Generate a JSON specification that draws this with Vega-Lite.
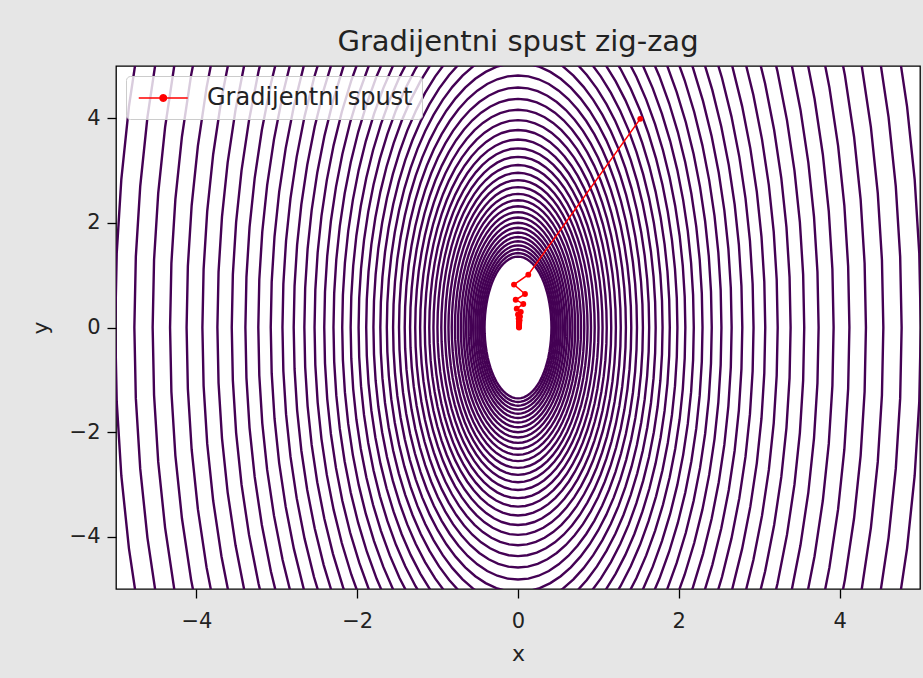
{
  "$schema": "https://vega.github.io/schema/vega-lite/v6.json",
  "width": 804,
  "height": 523,
  "autosize": {"type": "none"},
  "padding": {"left": 116, "top": 66, "right": 3, "bottom": 89},
  "background": "#e6e6e6",
  "title": {
    "text": "Gradijentni spust zig-zag",
    "font": "DejaVu Sans",
    "fontSize": 29,
    "fontWeight": "normal",
    "color": "#222222",
    "anchor": "middle",
    "baseline": "alphabetic",
    "offset": -14
  },
  "datasets": {
    "contours": [
      {"a": 0.417}, {"a": 0.438}, {"a": 0.46}, {"a": 0.483}, {"a": 0.507}, {"a": 0.532}, {"a": 0.559}, {"a": 0.587},
      {"a": 0.616}, {"a": 0.647}, {"a": 0.679}, {"a": 0.713}, {"a": 0.749}, {"a": 0.786}, {"a": 0.826}, {"a": 0.867},
      {"a": 0.91}, {"a": 0.956}, {"a": 1.004}, {"a": 1.054}, {"a": 1.106}, {"a": 1.162}, {"a": 1.22}, {"a": 1.281},
      {"a": 1.345}, {"a": 1.412}, {"a": 1.483}, {"a": 1.557}, {"a": 1.635}, {"a": 1.716}, {"a": 1.802}, {"a": 1.892},
      {"a": 1.987}, {"a": 2.086}, {"a": 2.191}, {"a": 2.3}, {"a": 2.415}, {"a": 2.536}, {"a": 2.663}, {"a": 2.796},
      {"a": 2.936}, {"a": 3.082}, {"a": 3.237}, {"a": 3.398}, {"a": 3.568}, {"a": 3.747}, {"a": 3.934}, {"a": 4.131},
      {"a": 4.337}, {"a": 4.554}, {"a": 4.782}, {"a": 5.021}
    ],
    "path": [
      {"step": 0, "x": 1.52, "y": 3.99, "series": "Gradijentni spust"},
      {"step": 1, "x": 0.128, "y": 1.01, "series": "Gradijentni spust"},
      {"step": 2, "x": -0.05, "y": 0.82, "series": "Gradijentni spust"},
      {"step": 3, "x": 0.087, "y": 0.64, "series": "Gradijentni spust"},
      {"step": 4, "x": -0.029, "y": 0.53, "series": "Gradijentni spust"},
      {"step": 5, "x": 0.066, "y": 0.45, "series": "Gradijentni spust"},
      {"step": 6, "x": -0.016, "y": 0.36, "series": "Gradijentni spust"},
      {"step": 7, "x": 0.035, "y": 0.3, "series": "Gradijentni spust"},
      {"step": 8, "x": 0.0, "y": 0.25, "series": "Gradijentni spust"},
      {"step": 9, "x": 0.025, "y": 0.21, "series": "Gradijentni spust"},
      {"step": 10, "x": 0.008, "y": 0.17, "series": "Gradijentni spust"},
      {"step": 11, "x": 0.02, "y": 0.14, "series": "Gradijentni spust"},
      {"step": 12, "x": 0.01, "y": 0.11, "series": "Gradijentni spust"},
      {"step": 13, "x": 0.016, "y": 0.09, "series": "Gradijentni spust"},
      {"step": 14, "x": 0.012, "y": 0.07, "series": "Gradijentni spust"},
      {"step": 15, "x": 0.014, "y": 0.05, "series": "Gradijentni spust"},
      {"step": 16, "x": 0.013, "y": 0.035, "series": "Gradijentni spust"},
      {"step": 17, "x": 0.013, "y": 0.02, "series": "Gradijentni spust"},
      {"step": 18, "x": 0.013, "y": 0.01, "series": "Gradijentni spust"},
      {"step": 19, "x": 0.013, "y": 0.0, "series": "Gradijentni spust"}
    ]
  },
  "layer": [
    {
      "data": {"name": "contours"},
      "mark": {
        "type": "point",
        "shape": "M0.472,0L0.4702,0.0872L0.4648,0.1737L0.4559,0.2588L0.4435,0.342L0.4278,0.4226L0.4088,0.5L0.3866,0.5736L0.3616,0.6428L0.3338,0.7071L0.3034,0.766L0.2707,0.8192L0.236,0.866L0.1995,0.9063L0.1614,0.9397L0.1222,0.9659L0.082,0.9848L0.0411,0.9962L0,1L-0.0411,0.9962L-0.082,0.9848L-0.1222,0.9659L-0.1614,0.9397L-0.1995,0.9063L-0.236,0.866L-0.2707,0.8192L-0.3034,0.766L-0.3338,0.7071L-0.3616,0.6428L-0.3866,0.5736L-0.4088,0.5L-0.4278,0.4226L-0.4435,0.342L-0.4559,0.2588L-0.4648,0.1737L-0.4702,0.0872L-0.472,0L-0.4702,-0.0872L-0.4648,-0.1737L-0.4559,-0.2588L-0.4435,-0.342L-0.4278,-0.4226L-0.4088,-0.5L-0.3866,-0.5736L-0.3616,-0.6428L-0.3338,-0.7071L-0.3034,-0.766L-0.2707,-0.8192L-0.236,-0.866L-0.1995,-0.9063L-0.1614,-0.9397L-0.1222,-0.9659L-0.082,-0.9848L-0.0411,-0.9962L0,-1L0.0411,-0.9962L0.082,-0.9848L0.1222,-0.9659L0.1614,-0.9397L0.1995,-0.9063L0.236,-0.866L0.2707,-0.8192L0.3034,-0.766L0.3338,-0.7071L0.3616,-0.6428L0.3866,-0.5736L0.4088,-0.5L0.4278,-0.4226L0.4435,-0.342L0.4559,-0.2588L0.4648,-0.1737L0.4702,-0.0872Z",
        "filled": false,
        "stroke": "#440154",
        "strokeWidth": 2.4,
        "opacity": 1,
        "clip": true
      },
      "encoding": {
        "x": {
          "datum": 0,
          "type": "quantitative",
          "scale": {"domain": [-5, 5], "nice": false, "zero": false},
          "axis": {"title": "x", "values": [-4, -2, 0, 2, 4], "format": "d", "labelPadding": 12, "titlePadding": 12}
        },
        "y": {
          "datum": 0,
          "type": "quantitative",
          "scale": {"domain": [-5, 5], "nice": false, "zero": false},
          "axis": {"title": "y", "values": [-4, -2, 0, 2, 4], "format": "d", "labelPadding": 7, "titlePadding": 17}
        },
        "size": {
          "field": "a",
          "type": "quantitative",
          "scale": {"type": "pow", "exponent": 2, "domain": [0, 6], "range": [0, 4160000], "zero": true},
          "legend": null
        }
      }
    },
    {
      "data": {"name": "path"},
      "mark": {"type": "line", "strokeWidth": 1.5, "clip": true},
      "encoding": {
        "x": {"field": "x", "type": "quantitative", "title": "x"},
        "y": {"field": "y", "type": "quantitative", "title": "y"},
        "order": {"field": "step", "type": "quantitative"},
        "color": {
          "field": "series",
          "type": "nominal",
          "scale": {"domain": ["Gradijentni spust"], "range": ["#ff0000"]},
          "legend": {"title": null}
        }
      }
    },
    {
      "data": {"name": "path"},
      "mark": {"type": "point", "shape": "circle", "filled": true, "size": 34, "opacity": 1, "clip": true},
      "encoding": {
        "x": {"field": "x", "type": "quantitative", "title": "x"},
        "y": {"field": "y", "type": "quantitative", "title": "y"},
        "color": {
          "field": "series",
          "type": "nominal",
          "scale": {"domain": ["Gradijentni spust"], "range": ["#ff0000"]},
          "legend": {"title": null}
        }
      }
    }
  ],
  "config": {
    "font": "DejaVu Sans",
    "view": {"fill": "#ffffff", "stroke": "#000000", "strokeWidth": 1.3},
    "axis": {
      "grid": false,
      "domain": false,
      "ticks": true,
      "tickColor": "#000000",
      "tickSize": 9,
      "tickWidth": 1.3,
      "labelFont": "DejaVu Sans",
      "labelFontSize": 21,
      "labelColor": "#222222",
      "titleFont": "DejaVu Sans",
      "titleFontSize": 22,
      "titleFontWeight": "normal",
      "titleColor": "#222222"
    },
    "legend": {
      "orient": "top-left",
      "offset": 10,
      "title": null,
      "fillColor": "rgba(255,255,255,0.8)",
      "strokeColor": "#cccccc",
      "cornerRadius": 4,
      "padding": 9,
      "labelFont": "DejaVu Sans",
      "labelFontSize": 24,
      "labelColor": "#222222",
      "labelLimit": 0,
      "symbolType": "M-1,0L3,0M1.27,0L1.234,0.135L1.135,0.234L1,0.27L0.865,0.234L0.766,0.135L0.73,0L0.766,-0.135L0.865,-0.234L1,-0.27L1.135,-0.234L1.234,-0.135Z",
      "symbolSize": 600,
      "symbolStrokeWidth": 1.5,
      "symbolFillColor": "#ff0000",
      "symbolStrokeColor": "#ff0000",
      "symbolOpacity": 1,
      "symbolOffset": 3,
      "labelOffset": 43
    }
  }
}
